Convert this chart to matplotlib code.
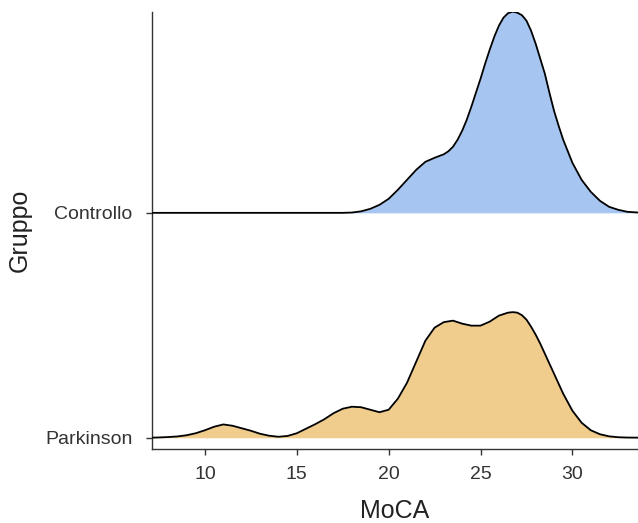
import matplotlib
matplotlib.use("Agg")
import matplotlib.pyplot as plt
import numpy as np

# Groups (y order: Parkinson bottom, Controllo top)
groups = ["Parkinson", "Controllo"]
fill_colors = ["#F0CD8C", "#A6C6F1"]

# Density ridge heights (pixel heights, scaled below)
ctrl_x = [7.1, 17.5, 18.0, 18.5, 19.0, 19.5, 20.0, 20.5, 21.0, 21.5, 22.0, 22.5, 23.0, 23.25,
          23.5, 23.75, 24.0, 24.25, 24.5, 24.75, 25.0, 25.25, 25.5, 25.75, 26.0, 26.25,
          26.5, 26.75, 27.0, 27.25, 27.5, 27.75, 28.0, 28.25, 28.5, 28.75, 29.0, 29.25,
          29.5, 30.0, 30.5, 31.0, 31.5, 32.0, 32.5, 33.0, 33.6]
ctrl_h = [0, 0, 0.3, 1.5, 4, 8, 14, 23, 33, 43, 51, 55, 58.5, 61.5,
          66, 73, 82, 93, 106, 120, 134, 149, 163, 176, 187, 195,
          199.5, 201, 200, 197.5, 192, 182, 169, 154, 139, 120, 102, 87,
          73, 50, 33, 21, 12, 6, 3, 1, 0.3]

park_x = [7.1, 7.5, 8.0, 8.5, 9.0, 9.5, 10.0, 10.5, 11.0, 11.5, 12.0, 12.5, 13.0, 13.5,
          14.0, 14.5, 15.0, 15.5, 16.0, 16.5, 17.0, 17.5, 18.0, 18.5, 19.0, 19.5,
          20.0, 20.5, 21.0, 21.5, 22.0, 22.5, 23.0, 23.5, 24.0, 24.5, 25.0, 25.5,
          26.0, 26.5, 26.75, 27.0, 27.25, 27.5, 27.75, 28.0, 28.25, 28.5, 29.0, 29.5,
          30.0, 30.5, 31.0, 31.5, 32.0, 32.5, 33.0, 33.6]
park_h = [0.1, 0.3, 0.7, 1.3, 2.5, 4.5, 7.5, 11, 13.3, 12, 9.5, 7, 4, 2,
          1, 1.8, 4.5, 9, 13.5, 18.5, 24.5, 29, 31, 30.5, 28, 25.5,
          28, 39, 55, 76, 97, 110, 115.5, 117, 114, 112, 112, 116,
          122, 125, 125.5, 125, 122.5, 118, 111, 103, 94, 84, 64, 44,
          27, 15, 7.5, 3.5, 1.4, 0.5, 0.2, 0.1]

PX_PER_UNIT = 224.7  # pixel height of one group step, used to scale readings

x_ticks = [10, 15, 20, 25, 30]

plt.rcParams['font.family'] = ['Liberation Sans', 'DejaVu Sans']

fig = plt.figure(figsize=(6.38, 5.23), dpi=100)
ax = fig.add_axes([152/638, 1 - 449/523, (638 - 152)/638, (449 - 12)/523])

series = [(park_x, park_h), (ctrl_x, ctrl_h)]
for i, ((xs, hs), col) in enumerate(zip(series, fill_colors)):
    base = i + 1
    xs = np.array(xs, dtype=float)
    ys = base + np.array(hs, dtype=float) / PX_PER_UNIT
    ax.fill_between(xs, base, ys, color=col, linewidth=0, zorder=2 + 2 * (1 - i))
    ax.plot(xs, ys, color="black", linewidth=1.3, zorder=3 + 2 * (1 - i),
            solid_joinstyle="round")

ax.set_xlim(7.12, 33.57)
ax.set_ylim(0.95, 2.893)
ax.set_xticks(x_ticks)
ax.set_yticks([1, 2])
ax.set_yticklabels(groups)

for s in ["top", "right"]:
    ax.spines[s].set_visible(False)
for s in ["left", "bottom"]:
    ax.spines[s].set_linewidth(1.0)
    ax.spines[s].set_color("#333333")

ax.tick_params(axis="both", length=4, width=1.0, color="#333333",
               labelsize=14, labelcolor="#333333")
ax.tick_params(axis="y", pad=10)
ax.tick_params(axis="x", pad=8)
ax.set_xlabel("MoCA", fontsize=18, color="#222222", labelpad=12)
ax.set_ylabel("Gruppo", fontsize=18, color="#222222", labelpad=10)

fig.savefig("out.png", dpi=100)
